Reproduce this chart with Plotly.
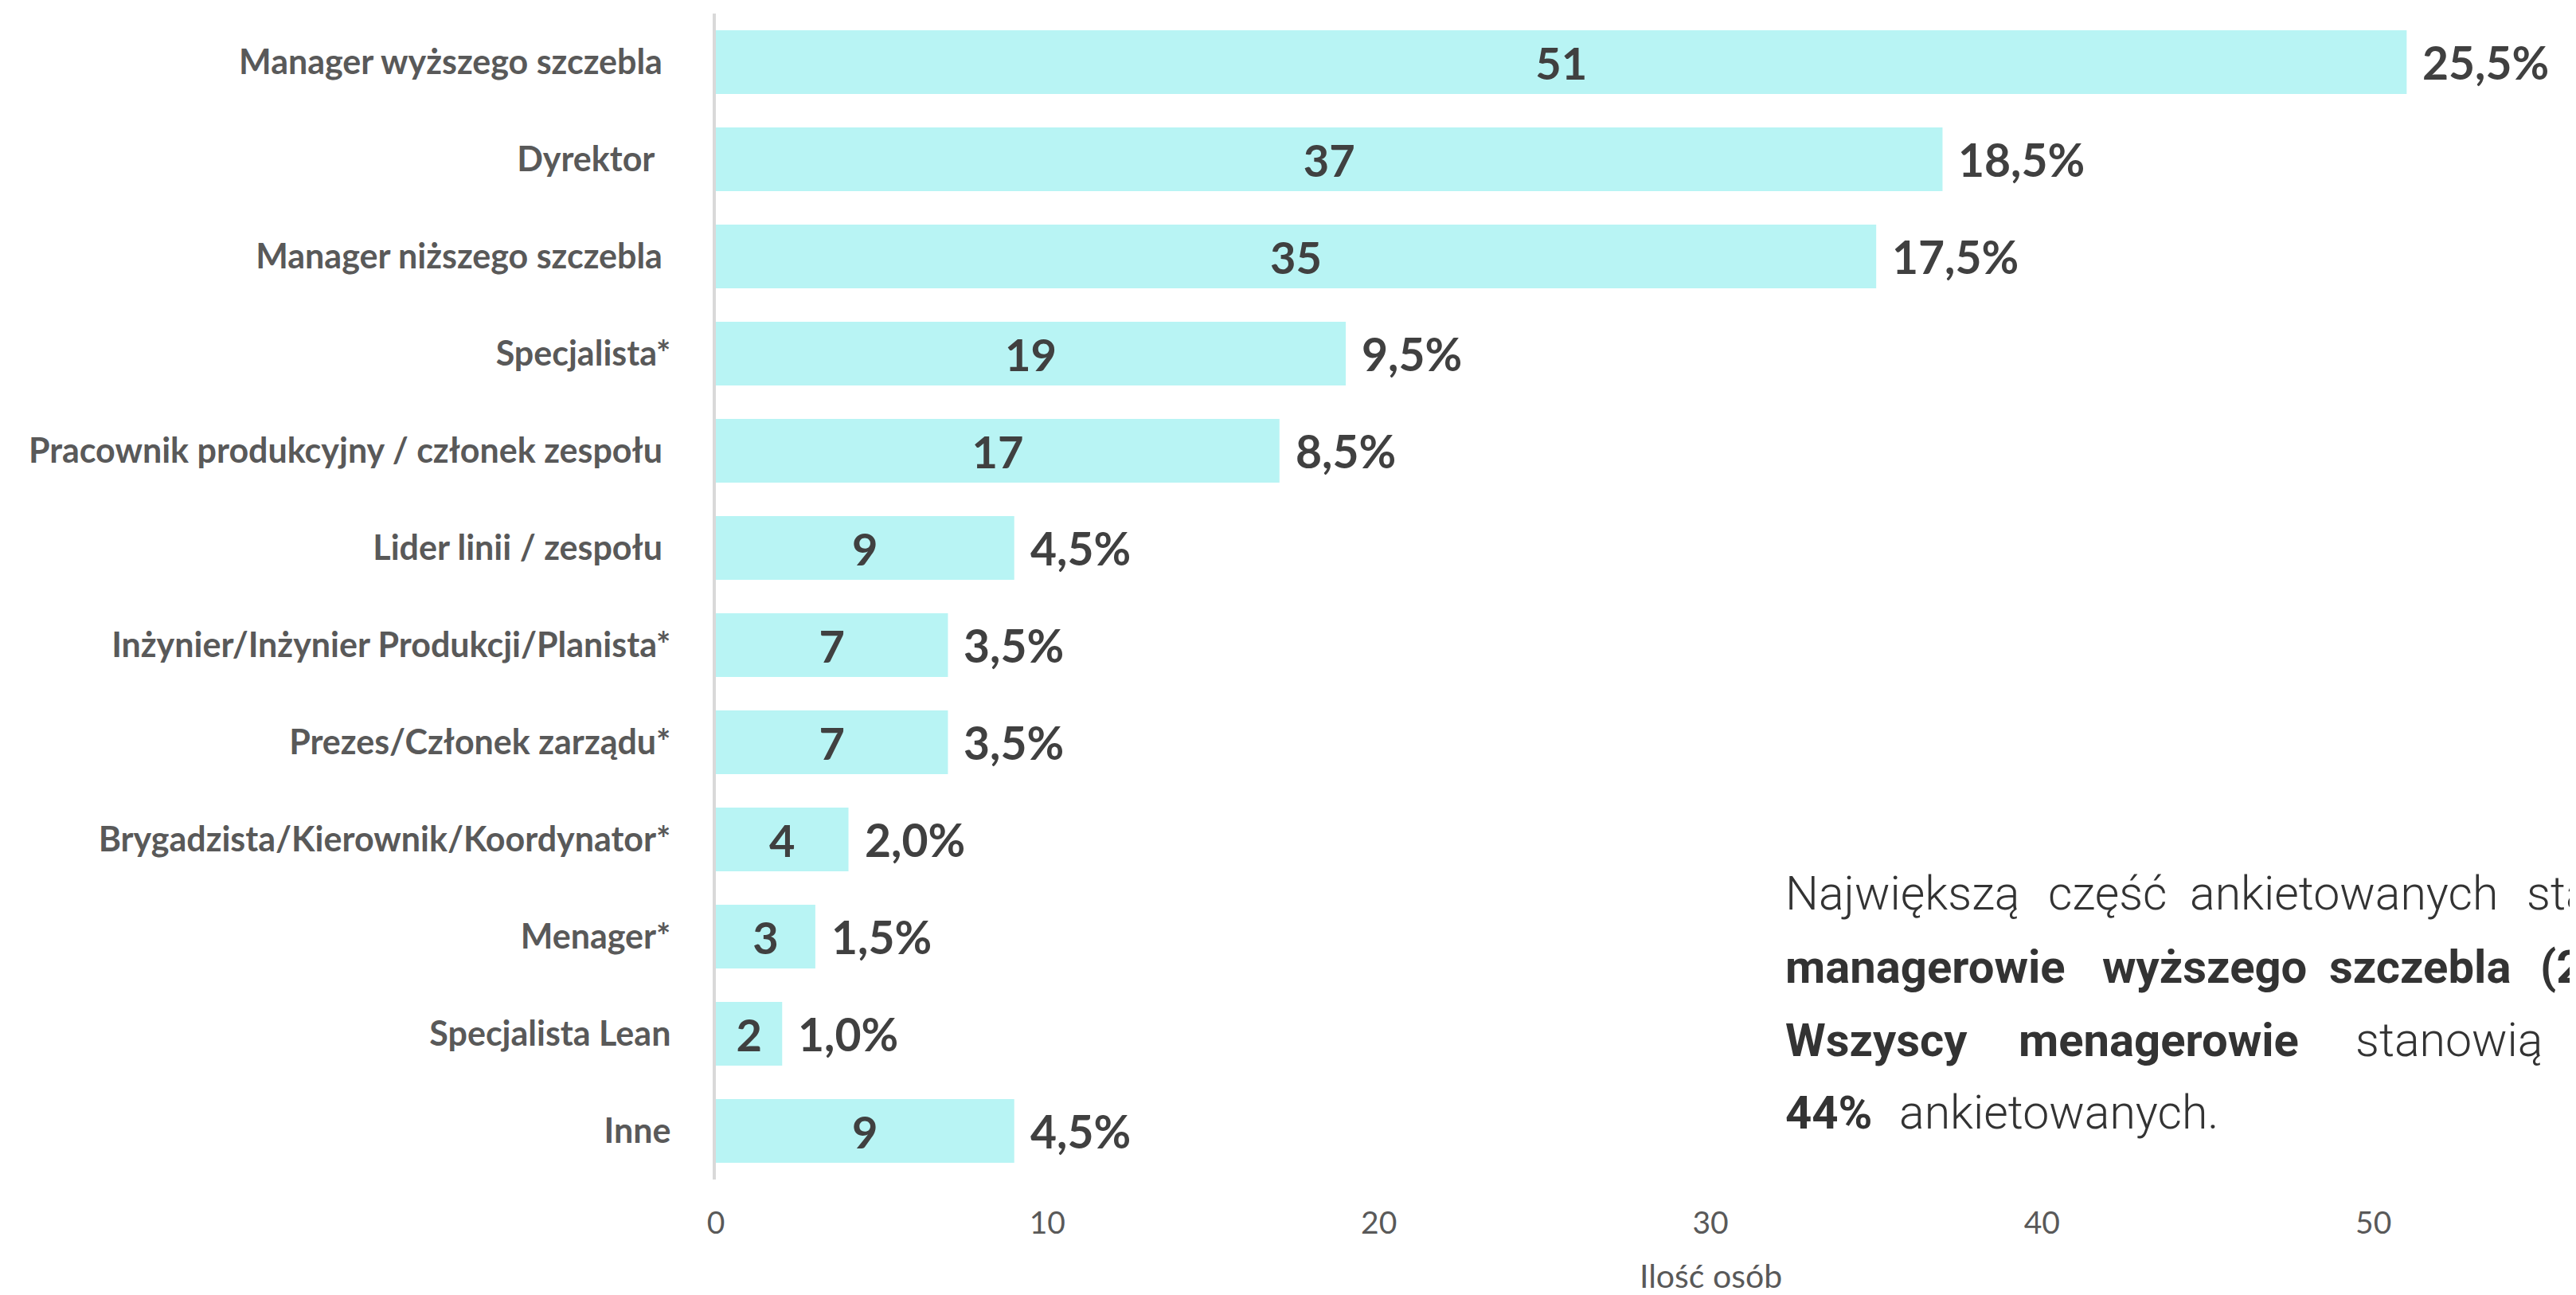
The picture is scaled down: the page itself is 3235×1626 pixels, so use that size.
import plotly.graph_objects as go

# ---- data ----
categories = [
    "Manager wyższego szczebla\u00a0",
    "Dyrektor\u00a0\u00a0",
    "Manager niższego szczebla\u00a0",
    "Specjalista*",
    "Pracownik produkcyjny / członek zespołu\u00a0",
    "Lider linii / zespołu\u00a0",
    "Inżynier/Inżynier Produkcji/Planista*",
    "Prezes/Członek zarządu*",
    "Brygadzista/Kierownik/Koordynator*",
    "Menager*",
    "Specjalista Lean",
    "Inne",
]
counts = [51, 37, 35, 19, 17, 9, 7, 7, 4, 3, 2, 9]
percents = ["25,5%", "18,5%", "17,5%", "9,5%", "8,5%", "4,5%", "3,5%", "3,5%",
            "2,0%", "1,5%", "1,0%", "4,5%"]
x_ticks = [0, 10, 20, 30, 40, 50]
x_title = "Ilość osób"

# commentary text: per line, (word, bold, left edge in px)
comment_lines = [
    [("Największą", False, 2232), ("część", False, 2562), ("ankietowanych", False, 2740), ("stanowią", False, 3163)],
    [("managerowie", True, 2232), ("wyższego", True, 2630), ("szczebla", True, 2915), ("(25,5%).", True, 3180)],
    [("Wszyscy", True, 2232), ("menagerowie", True, 2525), ("stanowią", False, 2948)],
    [("44%", True, 2232), ("ankietowanych.", False, 2375)],
]
line_baselines = [1133, 1225, 1317, 1408]

# ---- layout constants ----
W, H = 3235, 1626
L, R, T, B = 891, 0, 9, 153
plot_w = W - L - R
plot_h = H - T - B

LABEL_FONT = "Lato, 'Open Sans', sans-serif"
TEXT_FONT = "Roboto, 'Open Sans', sans-serif"

fig = go.Figure()
fig.add_trace(go.Bar(
    x=counts,
    y=categories,
    orientation="h",
    marker=dict(color="#B8F4F4", line=dict(width=0)),
    text=[str(c) for c in counts],
    textposition="inside",
    insidetextanchor="middle",
    textangle=0,
    constraintext="none",
    textfont=dict(family=LABEL_FONT, size=56, color="#404040", weight=700),
    hoverinfo="skip",
))

annotations = []
for c, cat, p in zip(counts, categories, percents):
    annotations.append(dict(
        x=c, y=cat, xref="x", yref="y", text=p, showarrow=False,
        xanchor="left", yanchor="middle", xshift=18,
        font=dict(family=LABEL_FONT, size=57, color="#404040", weight=700),
    ))

annotations.append(dict(
    x=30, xref="x", y=(T + plot_h - 1593) / plot_h, yref="paper",
    text=x_title, showarrow=False, xanchor="center", yanchor="middle",
    font=dict(family=LABEL_FONT, size=41, color="#595959"),
))

for words, base in zip(comment_lines, line_baselines):
    for w, bold, px in words:
        size = 58 if bold else 59
        annotations.append(dict(
            x=(px - L) / plot_w, xref="paper",
            y=(T + plot_h - (base - 0.33 * size)) / plot_h, yref="paper",
            text=w, showarrow=False, xanchor="left", yanchor="middle",
            font=dict(family=TEXT_FONT, size=size, color="#333333",
                      weight=700 if bold else 300),
        ))

fig.update_layout(
    width=W, height=H,
    margin=dict(l=L, r=R, t=T, b=B, pad=0),
    paper_bgcolor="white", plot_bgcolor="white",
    bargap=0.344,
    showlegend=False,
    annotations=annotations,
    xaxis=dict(
        range=[0, 56.3], tickvals=x_ticks, showgrid=False, zeroline=False,
        showline=False, ticks="outside", ticklen=20, tickcolor="rgba(0,0,0,0)",
        tickfont=dict(family=LABEL_FONT, size=39, color="#595959"),
    ),
    yaxis=dict(
        type="category", autorange="reversed", showgrid=False, zeroline=False,
        showline=True, linecolor="#D9D9D9", linewidth=4,
        ticks="outside", ticklen=44, tickcolor="rgba(0,0,0,0)",
        tickfont=dict(family=LABEL_FONT, size=43, color="#595959", weight=700),
    ),
)

fig.write_html("out.html")
